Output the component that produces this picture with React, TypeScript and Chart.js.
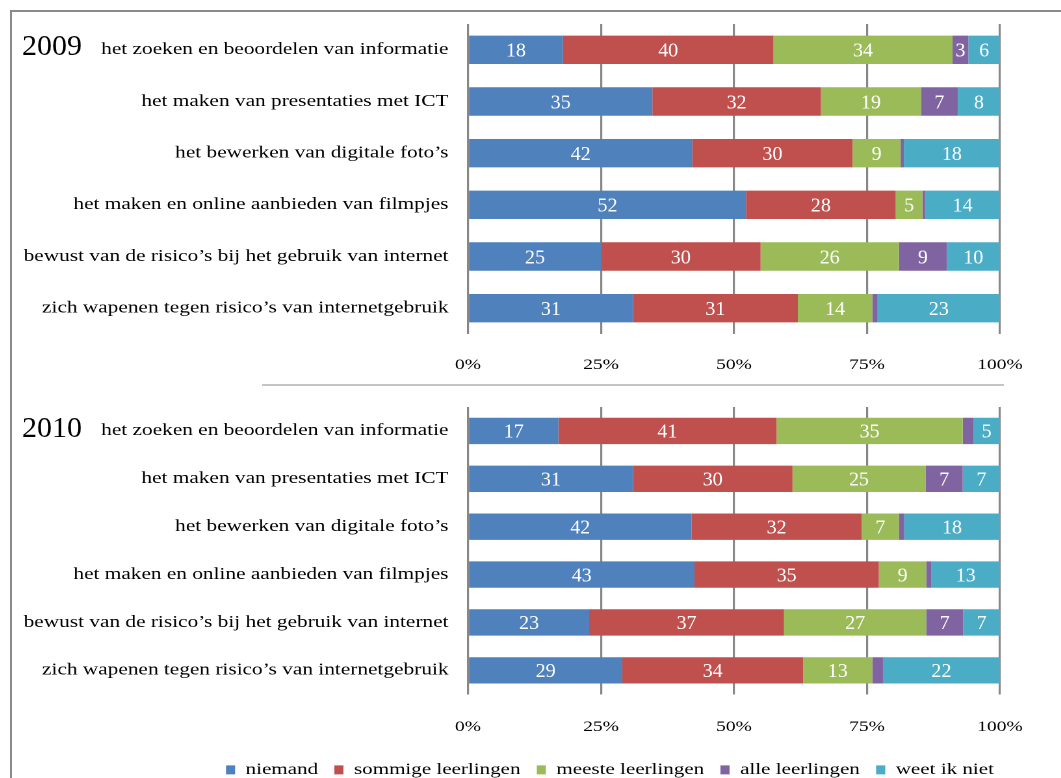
import React, { useEffect, useRef } from 'react';
import { Chart, registerables } from 'chart.js';

Chart.register(...registerables);

const SERIF = "'Liberation Serif', 'Times New Roman', Times, serif";
// horizontal stretch applied to the chart canvases (the reference text is wide)
const S = 1.3;

const categories = [
  'het zoeken en beoordelen van informatie',
  'het maken van presentaties met ICT',
  'het bewerken van digitale foto’s',
  'het maken en online aanbieden van filmpjes',
  'bewust van de risico’s bij het gebruik van internet',
  'zich wapenen tegen risico’s van internetgebruik',
];

const seriesNames = ['niemand', 'sommige leerlingen', 'meeste leerlingen', 'alle leerlingen', 'weet ik niet'];
const seriesColors = ['#4F81BD', '#C0504D', '#9BBB59', '#8064A2', '#4BACC6'];

const niemand2009 = [18, 35, 42, 52, 25, 31];
const sommige2009 = [40, 32, 30, 28, 30, 31];
const meeste2009 = [34, 19, 9, 5, 26, 14];
const alle2009 = [3, 7, 0.6, 0.5, 9, 1];
const weetNiet2009 = [6, 8, 18, 14, 10, 23];

const niemand2010 = [17, 31, 42, 43, 23, 29];
const sommige2010 = [41, 30, 32, 35, 37, 34];
const meeste2010 = [35, 25, 7, 9, 27, 13];
const alle2010 = [2, 7, 1, 1, 7, 2];
const weetNiet2010 = [5, 7, 18, 13, 7, 22];

const xTickValues = [0, 25, 50, 75, 100];

const series2009 = [niemand2009, sommige2009, meeste2009, alle2009, weetNiet2009];
const series2010 = [niemand2010, sommige2010, meeste2010, alle2010, weetNiet2010];

const valueLabelPlugin = {
  id: 'valueLabels',
  afterDatasetsDraw(chart: any) {
    const ctx = chart.ctx;
    chart.data.datasets.forEach((ds: any, di: number) => {
      const meta = chart.getDatasetMeta(di);
      meta.data.forEach((el: any, i: number) => {
        const v = ds.rawValues[i];
        if (v < 3) return;
        const p = el.getProps(['x', 'y', 'base'], true);
        ctx.save();
        ctx.translate((p.x + p.base) / 2, p.y + 1.5);
        ctx.scale(1 / S, 1);
        ctx.font = `20px ${SERIF}`;
        ctx.fillStyle = '#ffffff';
        ctx.textAlign = 'center';
        ctx.textBaseline = 'middle';
        ctx.fillText(String(v), 0, 0);
        ctx.restore();
      });
    });
  },
};

function buildDatasets(series: number[][]) {
  const totals = categories.map((_, i) => series.reduce((s, arr) => s + arr[i], 0));
  return series.map((arr, si) => ({
    label: seriesNames[si],
    data: arr.map((v, i) => (v / totals[i]) * 100),
    rawValues: arr,
    backgroundColor: seriesColors[si],
    borderWidth: 0,
    barPercentage: 0.55,
    categoryPercentage: 1,
  }));
}

type PanelProps = {
  series: number[][];
  left: number;
  top: number;
  width: number;
  height: number;
  padding: any;
  yWidth: number;
  xHeight: number;
  xTickPad: number;
  showLegend: boolean;
  rightWidth: number;
};

function Panel(props: PanelProps) {
  const ref = useRef<HTMLCanvasElement>(null);
  useEffect(() => {
    const scales: any = {
      x: {
        type: 'linear',
        stacked: true,
        min: 0,
        max: 100,
        afterBuildTicks(s: any) {
          s.ticks = xTickValues.map((v) => ({ value: v }));
        },
        afterFit(s: any) {
          s.height = props.xHeight;
          s.paddingLeft = 0;
          s.paddingRight = 0;
        },
        ticks: {
          padding: props.xTickPad,
          color: '#000',
          font: { family: SERIF, size: 15 },
          callback: (v: any) => v + '%',
        },
        grid: { color: '#878787', lineWidth: 1.6, drawTicks: false },
        border: { display: false },
      },
      y: {
        type: 'category',
        stacked: true,
        labels: categories,
        afterFit(s: any) {
          s.width = props.yWidth;
          s.paddingTop = 0;
          s.paddingBottom = 0;
        },
        ticks: {
          padding: 15,
          color: '#000',
          font: { family: SERIF, size: 16.4 },
        },
        grid: { display: false, drawTicks: false },
        border: { display: false },
      },
    };
    if (props.rightWidth > 0) {
      scales.yR = {
        type: 'linear',
        position: 'right',
        display: true,
        afterFit(s: any) {
          s.width = props.rightWidth;
          s.paddingTop = 0;
          s.paddingBottom = 0;
        },
        ticks: { display: false },
        grid: { display: false, drawTicks: false },
        border: { display: false },
      };
    }
    const chart = new Chart(ref.current as HTMLCanvasElement, {
      type: 'bar',
      data: { labels: categories, datasets: buildDatasets(props.series) as any },
      options: {
        indexAxis: 'y',
        responsive: false,
        animation: false,
        events: [],
        devicePixelRatio: 2,
        layout: { padding: props.padding },
        scales,
        plugins: {
          tooltip: { enabled: false },
          legend: {
            display: props.showLegend,
            position: 'bottom',
            labels: {
              boxWidth: 7,
              boxHeight: 9,
              padding: 12.5,
              color: '#000',
              font: { family: SERIF, size: 16.2 },
            },
          },
        },
      } as any,
      plugins: [valueLabelPlugin],
    });
    return () => chart.destroy();
  }, []);
  return (
    <canvas
      ref={ref}
      width={props.width}
      height={props.height}
      style={{
        position: 'absolute',
        left: props.left,
        top: props.top,
        width: props.width,
        height: props.height,
        transform: `scaleX(${S})`,
        transformOrigin: '0 0',
      }}
    />
  );
}

const yearStyle: React.CSSProperties = {
  position: 'absolute',
  left: 22,
  fontFamily: SERIF,
  fontSize: 30,
  lineHeight: '30px',
  color: '#000',
};

export default function App() {
  return (
    <div
      style={{
        position: 'fixed',
        left: 0,
        top: 0,
        width: 1061,
        height: 778,
        overflow: 'hidden',
        background: '#fff',
      }}
    >
      <div
        style={{
          position: 'absolute',
          left: 10,
          top: 10,
          width: 1200,
          height: 900,
          borderLeft: '2px solid #8a8a8a',
          borderTop: '2px solid #8a8a8a',
        }}
      />
      <div style={{ position: 'absolute', left: 262, top: 384, width: 742, height: 2, background: '#c4c4c4' }} />
      <Panel
        series={series2009}
        left={10}
        top={12}
        width={808}
        height={372}
        padding={{ top: 12, left: 0, right: 46.5, bottom: 0 }}
        yWidth={352.3}
        xHeight={50}
        xTickPad={22}
        showLegend={false}
        rightWidth={0}
      />
      <Panel
        series={series2010}
        left={10}
        top={382}
        width={923}
        height={406}
        padding={{ top: 25, left: 0, right: 0, bottom: 0 }}
        yWidth={352.3}
        xHeight={55}
        xTickPad={24}
        showLegend={true}
        rightWidth={161.5}
      />
      <div style={{ ...yearStyle, top: 30 }}>2009</div>
      <div style={{ ...yearStyle, top: 412 }}>2010</div>
    </div>
  );
}
